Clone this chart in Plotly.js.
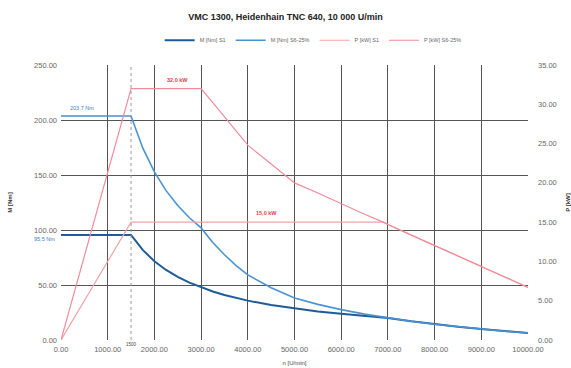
<!DOCTYPE html>
<html>
<head>
<meta charset="utf-8">
<script src="https://cdn.plot.ly/plotly-3.0.1.min.js"></script>
<style>html,body{margin:0;padding:0;background:#fff;}#chart{width:571px;height:368px;}</style>
</head>
<body>
<div id="chart"></div>
<script>
var rpm = [0, 1500, 1750, 2000, 2250, 2500, 2750, 3000, 3250, 3500, 3750, 4000, 4500, 5000, 5500, 6000, 6500, 6900, 7000, 7500, 8000, 8500, 9000, 9500, 10000];
var mS1 = [95.5, 95.5, 81.9, 71.6, 63.7, 57.3, 52.1, 47.8, 44.1, 40.9, 38.2, 35.8, 31.8, 28.7, 26.0, 23.9, 22.0, 20.7, 20.0, 17.0, 14.3, 12.0, 9.9, 8.0, 6.4];
var mS6 = [203.7, 203.7, 174.6, 152.8, 135.8, 122.2, 111.1, 101.9, 88.7, 77.5, 67.7, 59.2, 47.5, 38.2, 32.4, 27.6, 23.5, 20.7, 20.0, 17.0, 14.3, 12.0, 9.9, 8.0, 6.4];
var pS1 = [0, 15.0, 15.0, 15.0, 15.0, 15.0, 15.0, 15.0, 15.0, 15.0, 15.0, 15.0, 15.0, 15.0, 15.0, 15.0, 15.0, 15.0, 14.7, 13.35, 12.0, 10.7, 9.36, 8.0, 6.7];
var pS6 = [0, 32.0, 32.0, 32.0, 32.0, 32.0, 32.0, 32.0, 30.2, 28.4, 26.6, 24.8, 22.4, 20.0, 18.7, 17.3, 16.0, 15.0, 14.7, 13.35, 12.0, 10.7, 9.36, 8.0, 6.7];
var seriesNames = ["M [Nm] S1", "M [Nm] S6-25%", "P [kW] S1", "P [kW] S6-25%"];
var markerRpm = [1500];
var labelTexts = ["203,7 Nm", "95,5 Nm", "32,0 kW", "15,0 kW"];

var font = "Liberation Sans, Arial, sans-serif";
var traces = [
  {x: rpm, y: mS1, name: seriesNames[0], mode: "lines", line: {color: "#1f5b98", width: 2}, yaxis: "y"},
  {x: rpm, y: mS6, name: seriesNames[1], mode: "lines", line: {color: "#4a93d2", width: 1.6}, yaxis: "y"},
  {x: rpm, y: pS1, name: seriesNames[2], mode: "lines", line: {color: "#f3a3a6", width: 1.2}, yaxis: "y2"},
  {x: rpm, y: pS6, name: seriesNames[3], mode: "lines", line: {color: "#f08c9a", width: 1.2}, yaxis: "y2"}
];
var layout = {
  width: 571, height: 368,
  margin: {l: 61, r: 43, t: 65, b: 28},
  paper_bgcolor: "#fff", plot_bgcolor: "#fff",
  font: {family: font, size: 6, color: "#666"},
  title: {text: "<b>VMC 1300, Heidenhain TNC 640, 10 000 U/min</b>", font: {family: font, size: 9, color: "#222"}, x: 0.5, xanchor: "center", y: 0.955, yanchor: "middle"},
  showlegend: true,
  legend: {orientation: "h", x: 0.54, xanchor: "center", y: 1.09, yanchor: "middle", font: {family: font, size: 5.5, color: "#666"}, tracegroupgap: 0},
  xaxis: {range: [0, 10000], dtick: 1000, tick0: 0, tickformat: ".2f", showgrid: true, gridcolor: "#555", gridwidth: 1, zeroline: false, showline: false, ticks: "", ticklabelstandoff: 3, tickfont: {size: 7.5, color: "#666"},
    title: {text: "n [U/min]", font: {size: 6, color: "#444"}, standoff: 8}},
  yaxis: {range: [0, 250], dtick: 50, tickformat: ".2f", showgrid: true, gridcolor: "#555", gridwidth: 1, zeroline: false, showline: false, ticks: "", ticklabelstandoff: 3, tickfont: {size: 7.5, color: "#666"},
    title: {text: "<b>M [Nm]</b>", font: {size: 6, color: "#333"}, standoff: 20}},
  yaxis2: {range: [0, 35], dtick: 5, tickformat: ".2f", overlaying: "y", side: "right", showgrid: false, zeroline: false, showline: false, ticks: "", ticklabelstandoff: 9, tickfont: {size: 7.5, color: "#666"},
    title: {text: "<b>P [kW]</b>", font: {size: 6, color: "#333"}, standoff: 10}},
  shapes: [
    {type: "line", xref: "x", yref: "paper", x0: markerRpm[0], x1: markerRpm[0], y0: 0, y1: 1, line: {color: "#999", width: 1, dash: "dot"}}
  ],
  annotations: [
    {x: 450, y: 204, xref: "x", yref: "y", text: labelTexts[0], showarrow: false, yanchor: "bottom", yshift: 3, font: {size: 5.5, color: "#3a7fc0"}},
    {x: 0, y: 95.5, xref: "x", yref: "y", text: labelTexts[1], showarrow: false, xanchor: "right", yanchor: "top", xshift: -4, yshift: 1, font: {size: 5.5, color: "#3a7fc0"}},
    {x: 2500, y: 32, xref: "x", yref: "y2", text: "<b>" + labelTexts[2] + "</b>", showarrow: false, yanchor: "bottom", yshift: 4, font: {size: 5.5, color: "#e0404a"}},
    {x: 4400, y: 15, xref: "x", yref: "y2", text: "<b>" + labelTexts[3] + "</b>", showarrow: false, yanchor: "bottom", yshift: 4, font: {size: 5.5, color: "#e0404a"}},
    {x: markerRpm[0], y: 0, xref: "x", yref: "paper", text: String(markerRpm[0]), showarrow: false, yanchor: "top", yshift: 0, font: {size: 4.5, color: "#444"}}
  ]
};
Plotly.newPlot("chart", traces, layout, {displayModeBar: false, staticPlot: true});
</script>
</body>
</html>
